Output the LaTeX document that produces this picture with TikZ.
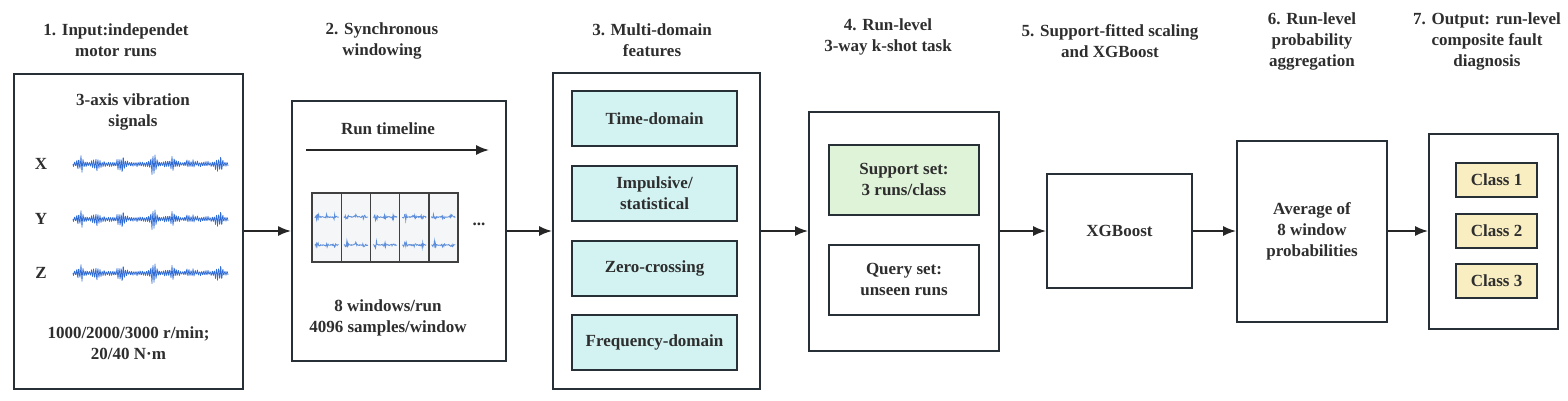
\documentclass[tikz,border=0pt]{standalone}
\usepackage{fontspec}
\setmainfont{Liberation Serif}
\usetikzlibrary{arrows.meta,positioning}

\definecolor{edgegray}{HTML}{263036}
\definecolor{featcyan}{HTML}{D3F3F3}
\definecolor{supgreen}{HTML}{DFF3D9}
\definecolor{clsyellow}{HTML}{F8EEC2}
\definecolor{waveblue}{HTML}{2F6BD3}
\definecolor{cellwave}{HTML}{5C8EDB}
\definecolor{cellfill}{HTML}{F4F6F8}

\begin{document}
\begin{tikzpicture}[
    x=1pt, y=-1pt,
    every node/.style={font=\bfseries\fontsize{17}{21}\selectfont,text=black!82,align=center},
    stage/.style={draw=edgegray,line width=2pt,fill=white,inner sep=0pt},
    featbox/.style={stage,fill=featcyan,minimum width=165pt,minimum height=55pt},
    setbox/.style={stage,minimum width=150pt,minimum height=70pt},
    classbox/.style={stage,fill=clsyellow,minimum width=81pt,minimum height=34pt},
    flow/.style={-{Latex[length=13pt,width=10pt]},line width=1.6pt,draw=black!85},
    declare function={
        bump(\t,\c)=exp(-(((\t-\c)/3.5)^2));
        wenv(\t)=3+9*bump(\t,8)+6*bump(\t,24)+9*bump(\t,48)+11*bump(\t,80)
            +7*bump(\t,100)+4*bump(\t,117)+8*bump(\t,146);
        cenv(\t)=0.5+4*exp(-((\t-3)^2)/2)+2.5*exp(-((\t-12)^2)/2)+2.5*exp(-((\t-20)^2)/2);
    }
]
\useasboundingbox (0,0) rectangle (1568,400);

% stage boxes
\node[stage,minimum width=229pt,minimum height=315pt] (input) at (128.5,231) {};
\node[stage,minimum width=214pt,minimum height=260pt] (window) at (399,231) {};
\node[stage,minimum width=207pt,minimum height=316pt] (feat) at (656.5,231) {};
\node[stage,minimum width=190pt,minimum height=239pt] (task) at (904,231) {};
\node[stage,minimum width=145pt,minimum height=114pt] (xgb) at (1119.5,231) {XGBoost};
\node[stage,minimum width=150pt,minimum height=181pt] (agg) at (1312,231) {Average of\\8 window\\probabilities};
\node[stage,minimum width=129pt,minimum height=195pt] (out) at (1493.5,231) {};

% titles
\node (t1) at (116,40.5) {1. Input:independet\\motor runs};
\node (t2) at (382,41) {2. Synchronous\\windowing};
\node (t3) at (652,40.5) {3. Multi-domain\\features};
\node (t4) at (888,37) {4. Run-level\\3-way k-shot task};
\node (t5) at (1110,41) {5. Support-fitted scaling\\and XGBoost};
\node (t6) at (1312,41) {6. Run-level\\probability\\aggregation};
\node (t7) at (1487,41) {7. Output: run-level\\composite fault\\diagnosis};

% 1. input signals
\node (sig) at (133,112) {3-axis vibration\\signals};
\foreach \ax/\yy in {X/164,Y/219,Z/273}{
    \node (ax\ax) at (41,\yy) {\ax};
    \pgfmathsetseed{11}
    \draw[waveblue,line width=0.7pt,line join=round]
        plot[domain=0:155,samples=311] ({73+\x},{\yy+sin(mod(\x,36)*170)*(0.35+0.65*rnd)*wenv(\x)});
}
\node (cond) at (128.5,343.5) {1000/2000/3000 r/min;\\20/40 N·m};

% 2. windowing
\node (tl) at (388,129) {Run timeline};
\coordinate (tl0) at (306,150);
\coordinate (tl1) at (489,150);
\draw[flow] (tl0) -- (tl1);
\foreach \i in {1,...,5}{
    \node[draw=black!75,line width=1.4pt,fill=cellfill,minimum width=29.2pt,minimum height=69pt,inner sep=0pt]
        (cell\i) at ({312+29.2*(\i-0.5)},227.5) {};
    \foreach \yy [count=\r] in {217,245}{
        \pgfmathsetseed{\i*7+\r}
        \draw[cellwave,line width=0.8pt]
            plot[domain=0:24,samples=49] ({312+29.2*(\i-1)+2.6+\x},{\yy+rand*cenv(\x)});
    }
}
\node (more) at (479,224) {...};
\node (wcount) at (388,317.5) {8 windows/run\\4096 samples/window};

% 3. features
\node[featbox] (ftime) at (654.5,118.5) {Time-domain};
\node[featbox] (fimp) at (654.5,193.5) {Impulsive/\\statistical};
\node[featbox] (fzero) at (654.5,268) {Zero-crossing};
\node[featbox] (ffreq) at (654.5,342) {Frequency-domain};

% 4. task
\node[setbox,fill=supgreen] (support) at (904,179.5) {Support set:\\3 runs/class};
\node[setbox] (query) at (904,279.5) {Query set:\\unseen runs};

% 7. output classes
\node[classbox] (c1) at (1496.5,180) {Class 1};
\node[classbox] (c2) at (1496.5,231) {Class 2};
\node[classbox] (c3) at (1496.5,281) {Class 3};

% flow
\draw[flow] (input) -- (window);
\draw[flow] (window) -- (feat);
\draw[flow] (feat) -- (task);
\draw[flow] (task) -- (xgb);
\draw[flow] (xgb) -- (agg);
\draw[flow] (agg) -- (out);
\end{tikzpicture}
\end{document}
